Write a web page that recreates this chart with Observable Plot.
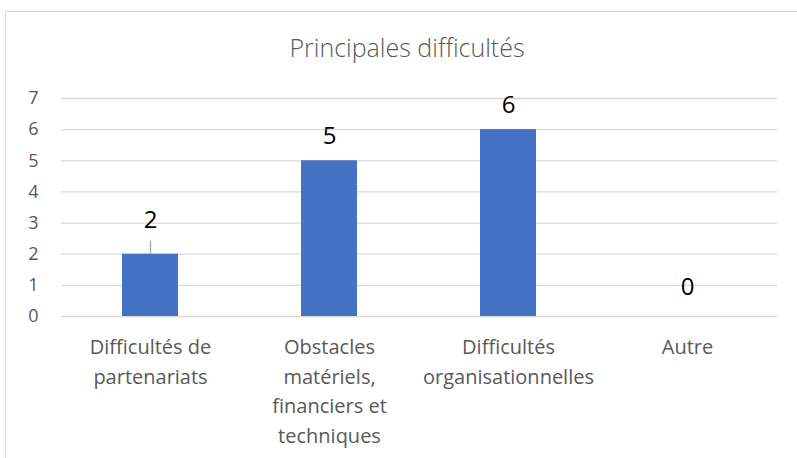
<!DOCTYPE html>
<html><head><meta charset="utf-8">
<script src="https://cdn.jsdelivr.net/npm/d3@7"></script>
<script src="https://cdn.jsdelivr.net/npm/@observablehq/plot@0.6"></script>
<style>
html,body{margin:0;padding:0;background:#fff;}
#wrap{position:relative;width:797px;height:458px;overflow:hidden;font-family:"Open Sans",sans-serif;}
#frame{position:absolute;left:5px;top:11px;width:900px;height:600px;border:1px solid #d9d9d9;box-sizing:border-box;}
#title{position:absolute;left:0;width:814px;top:30px;text-align:center;font-size:25px;color:#595959;font-weight:300;}
#chart{position:absolute;left:0;top:0;}
</style></head>
<body><div id="wrap"><div id="frame"></div><div id="title">Principales difficultés</div><div id="chart"></div></div>
<script>
const categories = ["Difficultés de\npartenariats", "Obstacles\nmatériels,\nfinanciers et\ntechniques", "Difficultés\norganisationnelles", "Autre"];
const values = [2, 5, 6, 0];
const yTicks = [0, 1, 2, 3, 4, 5, 6, 7];
const data = categories.map((c, i) => ({cat: c, value: values[i]}));

const plot = Plot.plot({
  width: 797, height: 458,
  marginTop: 98, marginBottom: 142, marginLeft: 61, marginRight: 20,
  style: {fontFamily: "'Open Sans', sans-serif", background: "transparent", overflow: "visible"},
  x: {domain: categories, paddingInner: 0.687, paddingOuter: 0.3435, label: null},
  y: {domain: [0, 7], label: null},
  marks: [
    Plot.gridY(yTicks, {stroke: "#d9d9d9", strokeOpacity: 1, strokeWidth: 1.3}),
    Plot.barY(data, {x: "cat", y: "value", fill: "#4472c4"}),
    Plot.axisY(yTicks, {tickSize: 0, tickPadding: 23, fontSize: 18, fill: "#595959", label: null}),
    Plot.axisX({tickSize: 0, tickPadding: 17, fontSize: 20, fill: "#595959", lineAnchor: "top", lineHeight: 1.47, label: null}),
    Plot.ruleX(data.filter(d => d.value === 2), {x: "cat", y1: "value", y2: "value", insetBottom: 13, stroke: "#a6a6a6", strokeWidth: 1.3}),
    Plot.text(data.filter(d => d.value > 2), {x: "cat", y: "value", text: d => String(d.value), dy: -24, fontSize: 24, fill: "#000"}),
    Plot.text(data.filter(d => d.value === 2), {x: "cat", y: "value", text: d => String(d.value), dy: -34, fontSize: 24, fill: "#000"}),
    Plot.text(data.filter(d => d.value === 0), {x: "cat", y: "value", text: d => String(d.value), dy: -29, fontSize: 24, fill: "#000"})
  ]
});
document.getElementById("chart").appendChild(plot);
</script></body></html>
